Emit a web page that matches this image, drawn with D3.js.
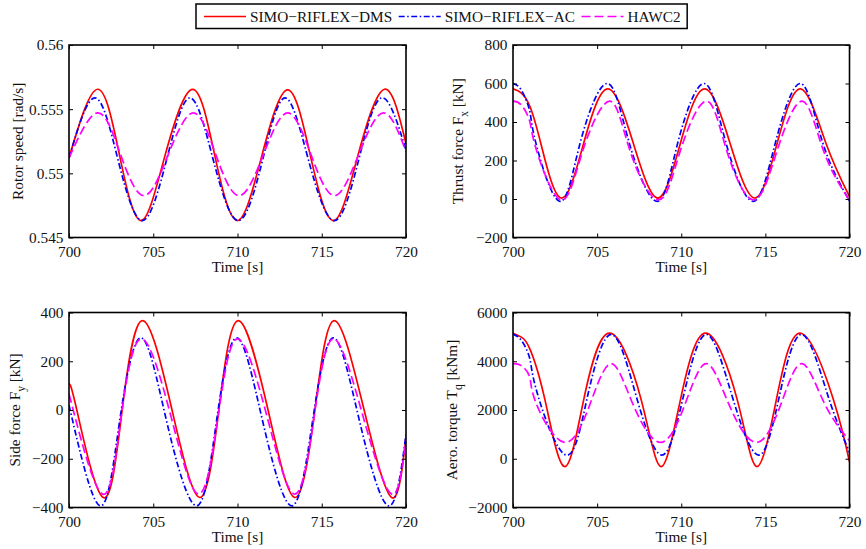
<!DOCTYPE html>
<html>
<head>
<meta charset="utf-8">
<script src="https://cdn.jsdelivr.net/npm/d3@7"></script>
<style>
  html, body { margin: 0; padding: 0; background: #fff; }
  svg { display: block; }
  text { font-family: "Liberation Serif", "Times New Roman", serif; fill: #111; }
</style>
</head>
<body>
<svg id="chart" width="866" height="549"></svg>
<script>
// ---------------- data ----------------
const seriesNames = ["SIMO\u2212RIFLEX\u2212DMS", "SIMO\u2212RIFLEX\u2212AC", "HAWC2"];
const timeDomain = [700, 720];
const timeTicks = [700, 705, 710, 715, 720];

// Rotor speed [rad/s]  ([time, value] key points: extrema and mean crossings)
const rotorDMS = [[700,0.5512],[701.7,0.55655],[703.0,0.5514],[704.27,0.54632],[705.7,0.5514],[707.34,0.55655],[708.65,0.5514],[709.99,0.54632],[711.45,0.5514],[712.98,0.5565],[714.32,0.5514],[715.69,0.54632],[717.15,0.5514],[718.72,0.55655],[720,0.5523]];
const rotorAC  = [[700,0.5512],[701.54,0.55588],[702.9,0.5511],[704.35,0.54632],[705.8,0.5511],[707.18,0.55588],[708.55,0.5511],[710.05,0.54632],[711.5,0.5511],[712.82,0.55588],[714.2,0.5511],[715.75,0.54632],[717.2,0.5511],[718.56,0.55588],[720,0.5518]];
const rotorHAWC2 = [[700,0.5512],[701.7,0.55471],[703.05,0.5515],[704.45,0.54826],[705.9,0.5515],[707.38,0.55471],[708.7,0.5515],[710.09,0.54826],[711.55,0.5515],[712.98,0.55471],[714.35,0.5515],[715.75,0.54826],[717.2,0.5515],[718.66,0.55471],[720,0.5517]];
const rotorTicks = [0.545, 0.55, 0.555, 0.56];

// Thrust force Fx [kN]
const thrustDMS = [[700,572],[700.5,550],[701.0,482],[701.65,290],[702.86,5],[704.2,290],[705.64,572],[707.15,290],[708.61,5],[709.95,290],[711.39,572],[712.9,290],[714.37,5],[715.7,290],[717.1,572],[718.6,290],[720,12]];
const thrustAC  = [[700,600],[700.5,565],[701.0,455],[701.35,294],[702.76,-12],[704.0,294],[705.6,600],[706.9,294],[708.57,-12],[709.8,294],[711.35,600],[712.65,294],[714.27,-12],[715.6,294],[717.1,600],[718.4,294],[720,-10]];
const thrustHAWC2 = [[700,508],[700.5,488],[701.0,402],[701.4,252],[702.86,-5],[704.15,252],[705.75,508],[706.95,252],[708.65,-5],[709.95,252],[711.5,508],[712.7,252],[714.3,-5],[715.7,252],[717.2,508],[718.45,252],[720,-8]];
const thrustTicks = [-200, 0, 200, 400, 600, 800];

// Side force Fy [kN]
const sideDMS = [[700,103],[700.45,4],[702.03,-359],[703.16,4],[704.37,367],[706.1,4],[707.77,-359],[708.9,4],[710.05,367],[711.8,4],[713.42,-359],[714.6,4],[715.75,367],[717.5,4],[719.15,-359],[720,-112]];
const sideAC  = [[700,20],[701.84,-393],[703.0,-48],[704.27,296],[705.8,-48],[707.57,-393],[708.75,-48],[709.95,296],[711.5,-48],[713.22,-393],[714.45,-48],[715.69,296],[717.25,-48],[718.96,-393],[720,-100]];
const sideHAWC2 = [[700,66],[702.0,-345],[703.1,-26],[704.3,292],[706.05,-26],[707.7,-345],[708.85,-26],[710.0,292],[711.75,-26],[713.4,-345],[714.55,-26],[715.7,292],[717.45,-26],[719.15,-345],[720,-115]];
const sideTicks = [-400, -200, 0, 200, 400];

// Aero. torque Tq [kNm]
const torqueDMS = [[700,5150],[700.5,4990],[701.0,4510],[701.9,2415],[703.05,-320],[704.2,2415],[705.74,5150],[707.62,2415],[708.8,-320],[709.95,2415],[711.45,5150],[713.33,2415],[714.5,-320],[715.65,2415],[717.1,5150],[719.05,2415],[720,-130]];
const torqueAC  = [[700,5120],[700.5,4850],[701.0,4100],[701.47,2625],[703.16,150],[704.45,2625],[705.84,5100],[707.3,2625],[708.85,150],[710.15,2625],[711.49,5100],[713.0,2625],[714.6,150],[715.85,2625],[717.18,5100],[718.7,2625],[720,260]];
const torqueHAWC2 = [[700,3900],[700.5,3820],[701.0,3340],[701.37,2285],[703.06,670],[704.6,2285],[705.84,3900],[707.1,2285],[708.77,670],[710.25,2285],[711.49,3900],[712.8,2285],[714.46,670],[715.95,2285],[717.18,3900],[718.5,2285],[720,740]];
const torqueTicks = [-2000, 0, 2000, 4000, 6000];

// ---------------- layout & style ----------------
const colors = ["#ff0000", "#0000ff", "#ff00ff"];
const dashes = [null, "6,2.5,1.5,2.5", "9,4"];
const FONT = 15.3;
const FAMILY = '"Liberation Serif", "Times New Roman", serif';

const panels = [
  { x0: 69,  x1: 406,   y0: 45,    y1: 237.5, ticks: rotorTicks,  series: [rotorDMS, rotorAC, rotorHAWC2],
    fmt: d => String(d), label: ["Rotor speed [rad/s]"], labelX: 22.5 },
  { x0: 513, x1: 849.5, y0: 45,    y1: 237.5, ticks: thrustTicks, series: [thrustDMS, thrustAC, thrustHAWC2],
    fmt: d3.format("d"), label: ["Thrust force F", "x", " [kN]"], labelX: 463 },
  { x0: 69,  x1: 406,   y0: 312.5, y1: 507.5, ticks: sideTicks,   series: [sideDMS, sideAC, sideHAWC2],
    fmt: d3.format("d"), label: ["Side force F", "y", " [kN]"], labelX: 20 },
  { x0: 513, x1: 849.5, y0: 312.5, y1: 507.5, ticks: torqueTicks, series: [torqueDMS, torqueAC, torqueHAWC2],
    fmt: d3.format("d"), label: ["Aero. torque T", "q", " [kNm]"], labelX: 457 }
];

const svg = d3.select("#chart");

panels.forEach((p, i) => {
  const x = d3.scaleLinear().domain(timeDomain).range([p.x0, p.x1]);
  const y = d3.scaleLinear().domain(d3.extent(p.ticks)).range([p.y1, p.y0]);
  const g = svg.append("g");

  const clipId = "clip" + i;
  svg.append("clipPath").attr("id", clipId).append("rect")
    .attr("x", p.x0).attr("y", p.y0).attr("width", p.x1 - p.x0).attr("height", p.y1 - p.y0);

  // curves
  const line = d3.line().x(d => x(d[0])).y(d => y(d[1])).curve(d3.curveNatural);
  const cg = g.append("g").attr("clip-path", `url(#${clipId})`);
  p.series.forEach((s, k) => {
    cg.append("path").datum(s)
      .attr("d", line)
      .attr("fill", "none")
      .attr("stroke", colors[k])
      .attr("stroke-width", 1.7)
      .attr("stroke-dasharray", dashes[k]);
  });

  // axes: ticks inward on all four sides
  const tickLen = 4;
  const ax = (axis, tx, ty, labels) => {
    const a = g.append("g").attr("transform", `translate(${tx},${ty})`).call(axis);
    a.attr("font-family", FAMILY).attr("font-size", FONT);
    a.select(".domain").remove();
    a.selectAll("line").attr("stroke", "#000").attr("stroke-width", 1);
    a.selectAll("text").style("font-size", FONT + "px").attr("fill", "#111")
      .style("font-family", FAMILY);
    if (!labels) a.selectAll("text").remove();
    return a;
  };
  ax(d3.axisBottom(x).tickValues(timeTicks).tickSize(-tickLen).tickPadding(8.3).tickFormat(d3.format("d")), 0, p.y1, true);
  ax(d3.axisTop(x).tickValues(timeTicks).tickSize(-tickLen), 0, p.y0, false);
  ax(d3.axisLeft(y).tickValues(p.ticks).tickSize(-tickLen).tickPadding(5.5).tickFormat(p.fmt), p.x0, 0, true);
  ax(d3.axisRight(y).tickValues(p.ticks).tickSize(-tickLen), p.x1, 0, false);

  // frame
  g.append("rect")
    .attr("x", p.x0).attr("y", p.y0).attr("width", p.x1 - p.x0).attr("height", p.y1 - p.y0)
    .attr("fill", "none").attr("stroke", "#000").attr("stroke-width", 1.6);

  // x label
  g.append("text")
    .attr("x", (p.x0 + p.x1) / 2).attr("y", p.y1 + 34)
    .attr("text-anchor", "middle")
    .style("font-size", FONT + "px")
    .text("Time [s]");

  // y label (rotated)
  const cy = (p.y0 + p.y1) / 2;
  const yl = g.append("text")
    .attr("transform", `translate(${p.labelX},${cy}) rotate(-90)`)
    .attr("text-anchor", "middle")
    .style("font-size", FONT + "px");
  yl.append("tspan").text(p.label[0]);
  if (p.label.length > 1) {
    yl.append("tspan").attr("dy", 5).style("font-size", (FONT * 0.75) + "px").text(p.label[1]);
    yl.append("tspan").attr("dy", -5).text(p.label[2]);
  }
});

// ---------------- legend ----------------
const lg = svg.append("g");
const legY = 16.5;
let cx = 204;
const legBox = lg.append("rect").attr("fill", "#fff").attr("stroke", "#000").attr("stroke-width", 1.5);
seriesNames.forEach((name, k) => {
  lg.append("line")
    .attr("x1", cx).attr("x2", cx + 42).attr("y1", legY).attr("y2", legY)
    .attr("stroke", colors[k]).attr("stroke-width", 1.7)
    .attr("stroke-dasharray", dashes[k]);
  const t = lg.append("text")
    .attr("x", cx + 46).attr("y", legY).attr("dy", "0.35em")
    .style("font-size", FONT + "px")
    .text(name);
  cx = cx + 46 + t.node().getComputedTextLength() + 6.5;
});
legBox.attr("x", 196).attr("y", 4).attr("width", cx - 196).attr("height", 24.5);
</script>
</body>
</html>
